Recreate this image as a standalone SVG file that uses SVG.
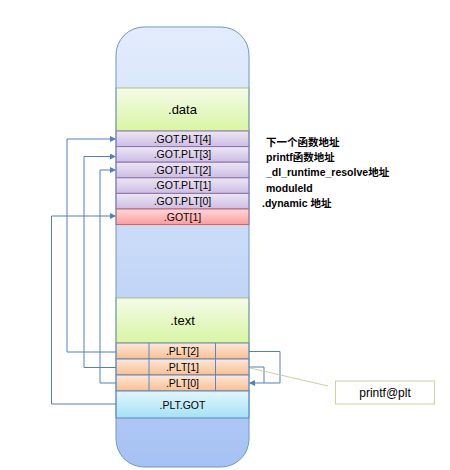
<svg xmlns="http://www.w3.org/2000/svg" width="450" height="470" viewBox="0 0 450 470">
<defs>
<linearGradient id="gMain" x1="0" y1="0" x2="0" y2="1"><stop offset="0" stop-color="#e2ecfc"/><stop offset="0.5" stop-color="#c8daf8"/><stop offset="1" stop-color="#a6c1f4"/></linearGradient>
<linearGradient id="gGreen" x1="0" y1="0" x2="0" y2="1"><stop offset="0" stop-color="#f4fbe8"/><stop offset="1" stop-color="#d8f5a2"/></linearGradient>
<linearGradient id="gPurple" x1="0" y1="0" x2="0" y2="1"><stop offset="0" stop-color="#ede6f5"/><stop offset="1" stop-color="#cdbde3"/></linearGradient>
<linearGradient id="gRed" x1="0" y1="0" x2="0" y2="1"><stop offset="0" stop-color="#ffd8d8"/><stop offset="1" stop-color="#ff9c9c"/></linearGradient>
<linearGradient id="gOrange" x1="0" y1="0" x2="0" y2="1"><stop offset="0" stop-color="#fde8d8"/><stop offset="1" stop-color="#fbbf90"/></linearGradient>
<linearGradient id="gCyan" x1="0" y1="0" x2="0" y2="1"><stop offset="0" stop-color="#e2f7fc"/><stop offset="1" stop-color="#a4e2f5"/></linearGradient>
<marker id="arr" markerWidth="6" markerHeight="6" refX="5" refY="3" orient="auto" markerUnits="userSpaceOnUse"><path d="M0,0 L6,3 L0,6 z" fill="#4f81bd"/></marker>
</defs>
<style>
.lbl{font-family:"Liberation Sans","Noto Sans CJK SC",sans-serif;fill:#000;text-anchor:middle}
.big{font-size:13px}
.sm{font-size:10.5px}
.note{font-family:"Liberation Sans","Noto Sans CJK SC",sans-serif;font-size:10.5px;font-weight:bold;fill:#000}
.purple{fill:url(#gPurple);stroke:#8a6fb0;stroke-width:1}
.orange{fill:url(#gOrange);stroke:#5b86c2;stroke-width:1}
.conn{fill:none;stroke:#4f81bd;stroke-width:1}
</style>
<rect x="116" y="27" width="133" height="440" rx="28" fill="url(#gMain)"/>
<g id="data"><rect x="116" y="88" width="133" height="43" fill="url(#gGreen)" stroke="#9bbb59" stroke-width="0.8"/><text class="lbl big" x="182.5" y="114">.data</text></g>
<g id="gotplt4"><rect class="purple" x="116" y="131" width="133" height="15.6"/><text class="lbl sm" x="182.5" y="142.5">.GOT.PLT[4]</text></g>
<g id="gotplt3"><rect class="purple" x="116" y="146.6" width="133" height="15.6"/><text class="lbl sm" x="182.5" y="158">.GOT.PLT[3]</text></g>
<g id="gotplt2"><rect class="purple" x="116" y="162.2" width="133" height="15.6"/><text class="lbl sm" x="182.5" y="173.5">.GOT.PLT[2]</text></g>
<g id="gotplt1"><rect class="purple" x="116" y="177.8" width="133" height="15.6"/><text class="lbl sm" x="182.5" y="189">.GOT.PLT[1]</text></g>
<g id="gotplt0"><rect class="purple" x="116" y="193.4" width="133" height="15.6"/><text class="lbl sm" x="182.5" y="205">.GOT.PLT[0]</text></g>
<g id="got1"><rect x="116" y="209" width="133" height="15.6" fill="url(#gRed)" stroke="#d0605c" stroke-width="1"/><text class="lbl sm" x="182.5" y="220.5">.GOT[1]</text></g>
<g id="text"><rect x="116" y="298" width="133" height="45" fill="url(#gGreen)" stroke="#9bbb59" stroke-width="0.8"/><text class="lbl big" x="182.5" y="325">.text</text></g>
<g id="plt2"><rect class="orange" x="116" y="343" width="133" height="16"/><line x1="149" y1="343" x2="149" y2="359" stroke="#5b86c2"/><line x1="215.5" y1="343" x2="215.5" y2="359" stroke="#5b86c2"/><text class="lbl sm" x="182.5" y="355">.PLT[2]</text></g>
<g id="plt1"><rect class="orange" x="116" y="359" width="133" height="16"/><line x1="149" y1="359" x2="149" y2="375" stroke="#5b86c2"/><line x1="215.5" y1="359" x2="215.5" y2="375" stroke="#5b86c2"/><text class="lbl sm" x="182.5" y="371">.PLT[1]</text></g>
<g id="plt0"><rect class="orange" x="116" y="375" width="133" height="16"/><line x1="149" y1="375" x2="149" y2="391" stroke="#5b86c2"/><line x1="215.5" y1="375" x2="215.5" y2="391" stroke="#5b86c2"/><text class="lbl sm" x="182.5" y="387">.PLT[0]</text></g>
<g id="pltgot"><rect x="116" y="391" width="133" height="27" fill="url(#gCyan)" stroke="#5b86c2" stroke-width="1"/><text class="lbl sm" x="182.5" y="408.5">.PLT.GOT</text></g>
<rect x="116" y="27" width="133" height="440" rx="28" fill="none" stroke="#6f95c9" stroke-width="1"/>
<g id="notes">
<text class="note" x="266" y="146">下一个函数地址</text>
<text class="note" x="266" y="161">printf函数地址</text>
<text class="note" x="266" y="176">_dl_runtime_resolve地址</text>
<text class="note" x="266" y="191.5">moduleId</text>
<text class="note" x="262" y="207">.dynamic 地址</text>
</g>
<g id="printfplt"><rect x="335.5" y="381" width="99" height="23" fill="#fff" stroke="#c3d69b" stroke-width="1"/><text class="lbl" style="font-size:12px" x="385" y="397">printf@plt</text></g>
<g id="connectors">
<polyline class="conn" points="116,352 67,352 67,139 115,139" marker-end="url(#arr)"/>
<polyline class="conn" points="116,367.5 84,367.5 84,156.5 115,156.5" marker-end="url(#arr)" stroke="#7ea3d4"/>
<polyline class="conn" points="116,383 100,383 100,170 115,170" marker-end="url(#arr)"/>
<polyline class="conn" points="116,404 51.5,404 51.5,216 115,216" marker-end="url(#arr)"/>
<polyline class="conn" points="249,351.5 280,351.5 280,383 250,383" marker-end="url(#arr)"/>
<polyline class="conn" points="249,367 264,367 264,383"/>
<line x1="250" y1="368" x2="328" y2="386" stroke="#c3d69b" stroke-width="1"/>
</g>
</svg>
